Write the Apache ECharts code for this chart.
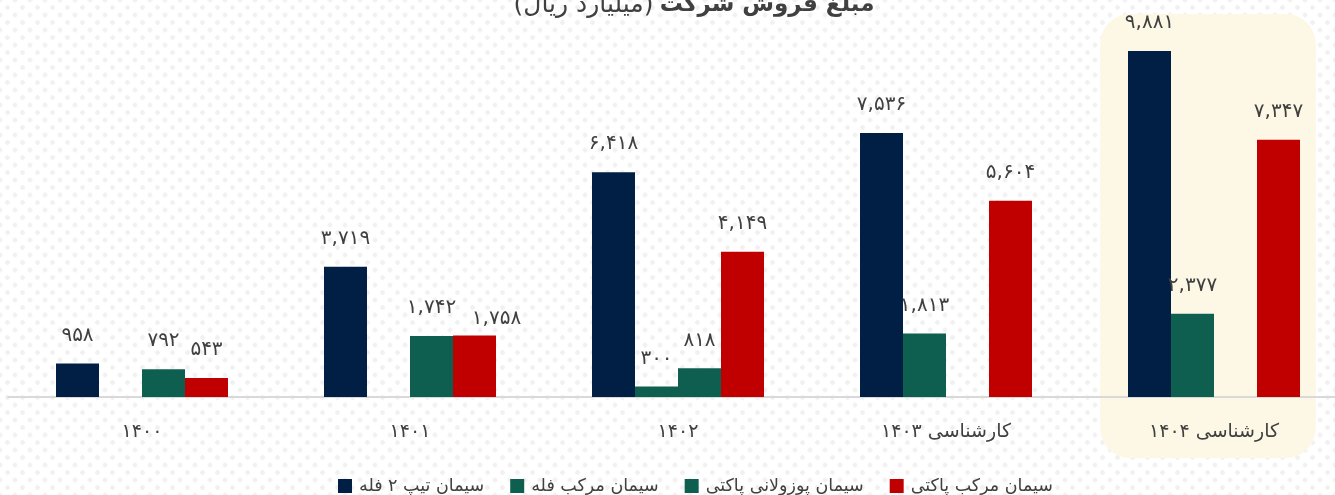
<!DOCTYPE html>
<html>
<head>
<meta charset="utf-8">
<script src="https://cdn.jsdelivr.net/npm/echarts@6/dist/echarts.min.js"></script>
<style>
  html, body { margin: 0; padding: 0; }
  body {
    width: 1335px; height: 495px; overflow: hidden;
    background-color: #ffffff;
    background-image:
      radial-gradient(circle, #f1f1f1 2px, transparent 2.6px),
      radial-gradient(circle, #f1f1f1 2px, transparent 2.6px);
    background-size: 15px 15px, 15px 15px;
    background-position: 0 0, 7.5px 7.5px;
  }
  #chart { width: 1335px; height: 495px; }
</style>
</head>
<body>
<div id="chart"></div>
<script>
// Sales by product line, billion rials
const categories = ['۱۴۰۰', '۱۴۰۱', '۱۴۰۲', 'کارشناسی ۱۴۰۳', 'کارشناسی ۱۴۰۴'];
const seriesNames = ['سیمان تیپ ۲ فله', 'سیمان مرکب فله', 'سیمان پوزولانی پاکتی', 'سیمان مرکب پاکتی'];
const type2Bulk = [958, 3719, 6418, 7536, 9881];
const blendedBulk = [null, null, 300, 1813, 2377];
const pozzolanBagged = [792, 1742, 818, null, null];
const blendedBagged = [543, 1758, 4149, 5604, 7347];
const seriesColors = ['#011f45', '#0f5f50', '#0f5f50', '#c00000'];

const FONT = '"DejaVu Sans", "Noto Sans", sans-serif';
const TEXT = '#404040';

function toPersianDigits(s) {
  return String(s).replace(/[0-9]/g, d => '۰۱۲۳۴۵۶۷۸۹'[+d]);
}
function fmt(v) {
  return toPersianDigits(Number(v).toLocaleString('en-US'));
}

const values = [type2Bulk, blendedBulk, pozzolanBagged, blendedBagged];

// Nudge one label aside where two neighbouring bars have almost equal height
function buildData(seriesIndex) {
  return values[seriesIndex].map((v, j) => {
    if (seriesIndex === 3 && j === 1) {
      return { value: v, label: { offset: [22, 11] } };
    }
    return v;
  });
}

const chart = echarts.init(document.getElementById('chart'), null, { renderer: 'canvas' });

const option = {
  animation: false,
  textStyle: { fontFamily: FONT },
  title: {
    text: '{n|(میلیارد ریال)} {b|مبلغ فروش شرکت}',
    left: 689,
    textAlign: 'center',
    top: -12,
    textStyle: {
      rich: {
        n: { fontFamily: FONT, fontSize: 25, color: TEXT, fontWeight: 'normal' },
        b: { fontFamily: FONT, fontSize: 23, color: TEXT, fontWeight: 'bold' }
      }
    }
  },
  legend: {
    left: 333,
    top: 472,
    itemWidth: 14,
    itemHeight: 14,
    itemGap: 26,
    icon: 'rect',
    textStyle: { fontFamily: FONT, fontSize: 17.5, color: TEXT, padding: [0, 0, 0, 2] },
    data: seriesNames
  },
  grid: {
    left: 8, right: -13, top: 46.8, bottom: 98,
    containLabel: false,
    outerBoundsMode: 'none'
  },
  xAxis: {
    type: 'category',
    data: categories,
    axisLine: { lineStyle: { color: '#d9d9d9', width: 2 } },
    axisTick: { show: false },
    axisLabel: { fontFamily: FONT, fontSize: 19, color: TEXT, margin: 26 }
  },
  yAxis: {
    type: 'value',
    min: 0,
    max: 10000,
    show: false,
    splitLine: { show: false }
  },
  series: seriesNames.map((name, i) => ({
    name: name,
    type: 'bar',
    barWidth: 43,
    barGap: '0%',
    itemStyle: { color: seriesColors[i] },
    label: {
      show: true,
      position: 'top',
      distance: 18,
      fontFamily: FONT,
      fontSize: 20,
      color: TEXT,
      formatter: p => fmt(p.value)
    },
    data: buildData(i)
  }))
};

chart.setOption(option);

// Rounded cream panel behind the forecast year
function drawHighlight() {
  const last = categories[categories.length - 1];
  const cx = chart.convertToPixel({ xAxisIndex: 0 }, last) - 6;
  const band = chart.convertToPixel({ xAxisIndex: 0 }, categories[1]) -
               chart.convertToPixel({ xAxisIndex: 0 }, categories[0]);
  const w = band * 0.805;
  chart.setOption({
    graphic: [{
      type: 'rect',
      z: -10,
      silent: true,
      shape: { x: cx - w / 2, y: 14, width: w, height: 444, r: 30 },
      style: { fill: '#fdf8e6' }
    }]
  });
}
drawHighlight();
</script>
</body>
</html>
